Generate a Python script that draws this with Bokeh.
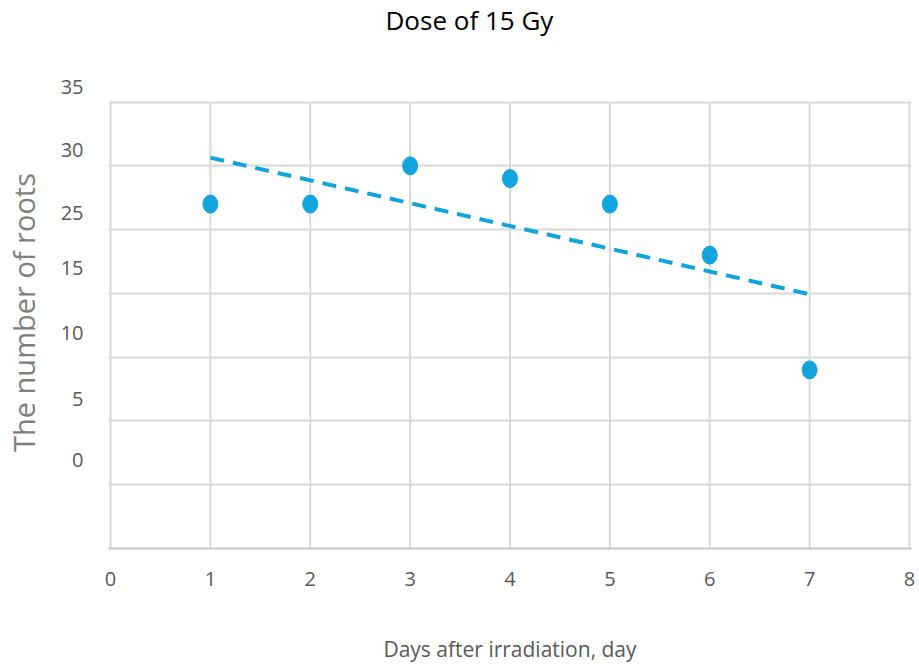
import numpy as np
from bokeh.plotting import figure
from bokeh.models import FixedTicker, Title
from bokeh.embed import file_html
from bokeh.resources import INLINE

# Data (y in plotted grid units of the original chart)
days = [1, 2, 3, 4, 5, 6, 7]
roots = [5.4, 5.4, 6.0, 5.8, 5.4, 4.6, 2.8]

# Y tick labels of the original chart and where they sit
ytick_labels = ["35", "30", "25", "15", "10", "5", "0"]
ytick_pos = [7.24, 6.25, 5.26, 4.40, 3.38, 2.35, 1.38]
ygrid_pos = [0, 1, 2, 3, 4, 5, 6, 7]
xticks = [0, 1, 2, 3, 4, 5, 6, 7, 8]

FONT = "Open Sans"
BLUE = "#12a5dd"
GRID = "#d9d9d9"

p = figure(width=919, height=667, x_range=(-0.02, 8.02), y_range=(0, 7.4),
           output_backend="svg", toolbar_location=None,
           min_border_left=106, min_border_right=8, min_border_top=76, min_border_bottom=119)
p.outline_line_color = None

p.title = Title(text="Dose of 15 Gy\n", align="left", vertical_align="top", text_font=FONT,
                text_font_size="26px", text_font_style="normal", text_color="#000000")
p.title.offset = 277
p.title.standoff = 2

# grids: horizontal from the grid, vertical drawn up to the top gridline
p.xgrid.visible = False
p.ygrid.ticker = FixedTicker(ticks=ygrid_pos)
p.ygrid.grid_line_color = GRID
p.ygrid.grid_line_width = 2
p.segment(x0=xticks, y0=[ygrid_pos[0]] * len(xticks), x1=xticks, y1=[ygrid_pos[-1]] * len(xticks),
          line_color=GRID, line_width=2)

# x axis
xa = p.xaxis[0]
xa.ticker = FixedTicker(ticks=xticks)
xa.axis_line_color = "#c8c8c8"
xa.axis_line_width = 2
xa.major_tick_out = 0
xa.major_tick_in = 0
xa.major_tick_line_color = None
xa.minor_tick_line_color = None
xa.major_label_text_font = FONT
xa.major_label_text_font_size = "20px"
xa.major_label_text_color = "#595959"
xa.major_label_standoff = 23
xa.axis_label = "Days after irradiation, day"
xa.axis_label_text_font = FONT
xa.axis_label_text_font_size = "21px"
xa.axis_label_text_font_style = "normal"
xa.axis_label_text_color = "#595959"
xa.axis_label_standoff = 46

# y axis
ya = p.yaxis[0]
ya.ticker = FixedTicker(ticks=ytick_pos)
ya.major_label_overrides = {pos: lab for pos, lab in zip(ytick_pos, ytick_labels)}
ya.axis_line_color = None
ya.major_tick_out = 0
ya.major_tick_in = 0
ya.major_tick_line_color = None
ya.minor_tick_line_color = None
ya.major_label_text_font = FONT
ya.major_label_text_font_size = "20px"
ya.major_label_text_color = "#595959"
ya.major_label_standoff = 25
ya.axis_label = "The number of roots"
ya.axis_label_text_font = FONT
ya.axis_label_text_font_size = "29px"
ya.axis_label_text_font_style = "normal"
ya.axis_label_text_color = "#7f7f7f"
ya.axis_label_standoff = 15

# trend line (least squares fit)
slope, intercept = np.polyfit(days, roots, 1)
tx = [days[0], days[-1]]
ty = [slope * x + intercept for x in tx]
p.line(tx, ty, line_color=BLUE, line_width=4, line_dash="14 9")

# points
p.ellipse(days, roots, width=15, height=18, width_units="screen", height_units="screen",
          fill_color=BLUE, line_color=BLUE)

open("out.html", "w").write(file_html(p, INLINE))
